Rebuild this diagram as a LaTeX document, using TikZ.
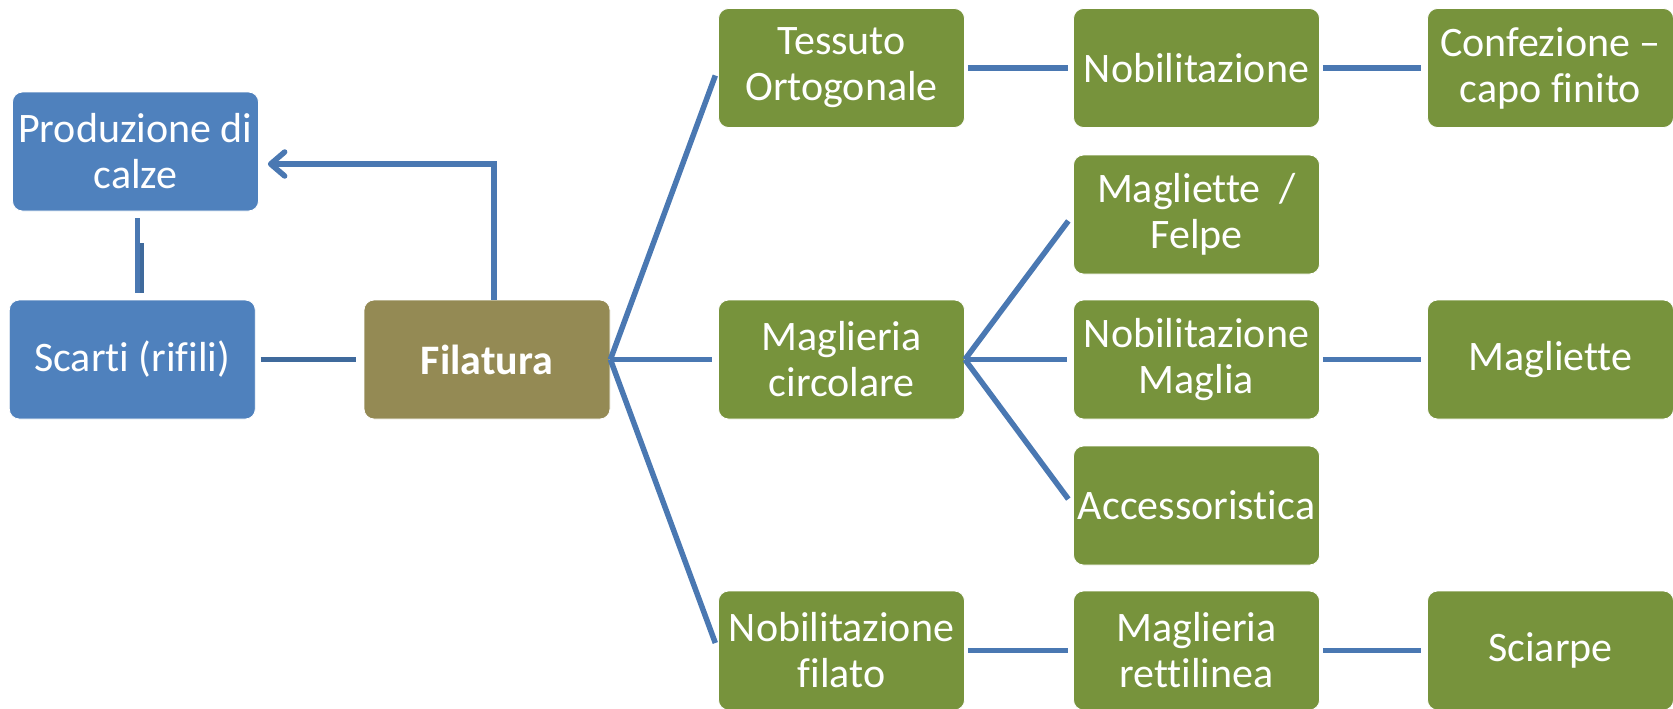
\documentclass[tikz,border=0pt]{standalone}
\usepackage{fontspec}
\setmainfont[Ligatures={NoCommon,NoContextual}]{Carlito}
\usetikzlibrary{arrows.meta,calc}
\definecolor{bblue}{HTML}{4F81BD}
\definecolor{ggreen}{HTML}{77933C}
\definecolor{oolive}{HTML}{948A54}
\definecolor{lblue}{HTML}{4A78B2}
\definecolor{dblue}{HTML}{3F6A9C}
\begin{document}
\begin{tikzpicture}[x=1pt,y=-1pt,
  box/.style={rounded corners=10pt, minimum width=246pt, minimum height=119pt, inner sep=0pt,
    text=white, align=center, font=\fontsize{42}{46}\selectfont, draw=white, line width=0.8pt},
  bluebox/.style={box, fill=bblue},
  greenbox/.style={box, fill=ggreen},
  olivebox/.style={box, fill=oolive},
  conn/.style={draw=lblue, line width=5.5pt},
  darkconn/.style={draw=dblue, line width=5.5pt}]
\useasboundingbox (0,0) rectangle (1673,709);

\node[bluebox] (prod) at (135.5,151.5) {Produzione di\\calze};
\node[bluebox] (scarti) at (132.3,359.5) {Scarti (rifili)};
\node[olivebox] (fil) at (487,359.5) {\textbf{Filatura}};
\node[greenbox] (tess) at (841.5,68) {Tessuto\\Ortogonale};
\node[greenbox] (nob1) at (1196.5,68) {Nobilitazione};
\node[greenbox] (conf) at (1550.5,68) {Confezione –\\capo finito};
\node[greenbox] (mcirc) at (841.5,359.5) {Maglieria\\circolare};
\node[greenbox] (felpe) at (1196.5,214.5) {Magliette \ /\\Felpe};
\node[greenbox] (nobm) at (1196.5,359.5) {Nobilitazione\\Maglia};
\node[greenbox] (magl) at (1550.5,359.5) {Magliette};
\node[greenbox] (acc) at (1196.5,505.5) {Accessoristica};
\node[greenbox] (nobf) at (841.5,650.5) {Nobilitazione\\filato};
\node[greenbox] (mret) at (1196.5,650.5) {Maglieria\\rettilinea};
\node[greenbox] (sciarpe) at (1550.5,650.5) {Sciarpe};

% left part
\draw[conn] ([xshift=2pt,yshift=-7pt]prod.south) -- ([xshift=5.2pt,yshift=7pt]scarti.north);
\draw[darkconn, line width=4pt] ([xshift=6.5pt,yshift=-32pt]prod.south) -- ([xshift=9.7pt,yshift=7pt]scarti.north);
\draw[darkconn, shorten <=5pt, shorten >=8pt] (scarti.east) -- (fil.west);
\draw[conn, -{Straight Barb[length=14pt,width=24pt,round]}] ([xshift=7pt]fil.north) |- ([xshift=9pt,yshift=-12.5pt]prod.east);

% fan from Filatura
\draw[conn, shorten >=8pt] (fil.east) -- (tess.west);
\draw[conn, shorten >=6pt] (fil.east) -- (mcirc.west);
\draw[conn, shorten >=8pt] (fil.east) -- (nobf.west);

% fan from Maglieria circolare
\draw[conn, shorten >=8pt] (mcirc.east) -- (felpe.west);
\draw[conn, shorten >=6pt] (mcirc.east) -- (nobm.west);
\draw[conn, shorten >=8pt] (mcirc.east) -- (acc.west);

% rows
\draw[conn, shorten <=3pt, shorten >=5pt] (tess.east) -- (nob1.west);
\draw[conn, shorten <=3pt, shorten >=6pt] (nob1.east) -- (conf.west);
\draw[conn, shorten <=3pt, shorten >=6pt] (nobm.east) -- (magl.west);
\draw[conn, shorten <=3pt, shorten >=5pt] (nobf.east) -- (mret.west);
\draw[conn, shorten <=3pt, shorten >=6pt] (mret.east) -- (sciarpe.west);
\end{tikzpicture}
\end{document}
